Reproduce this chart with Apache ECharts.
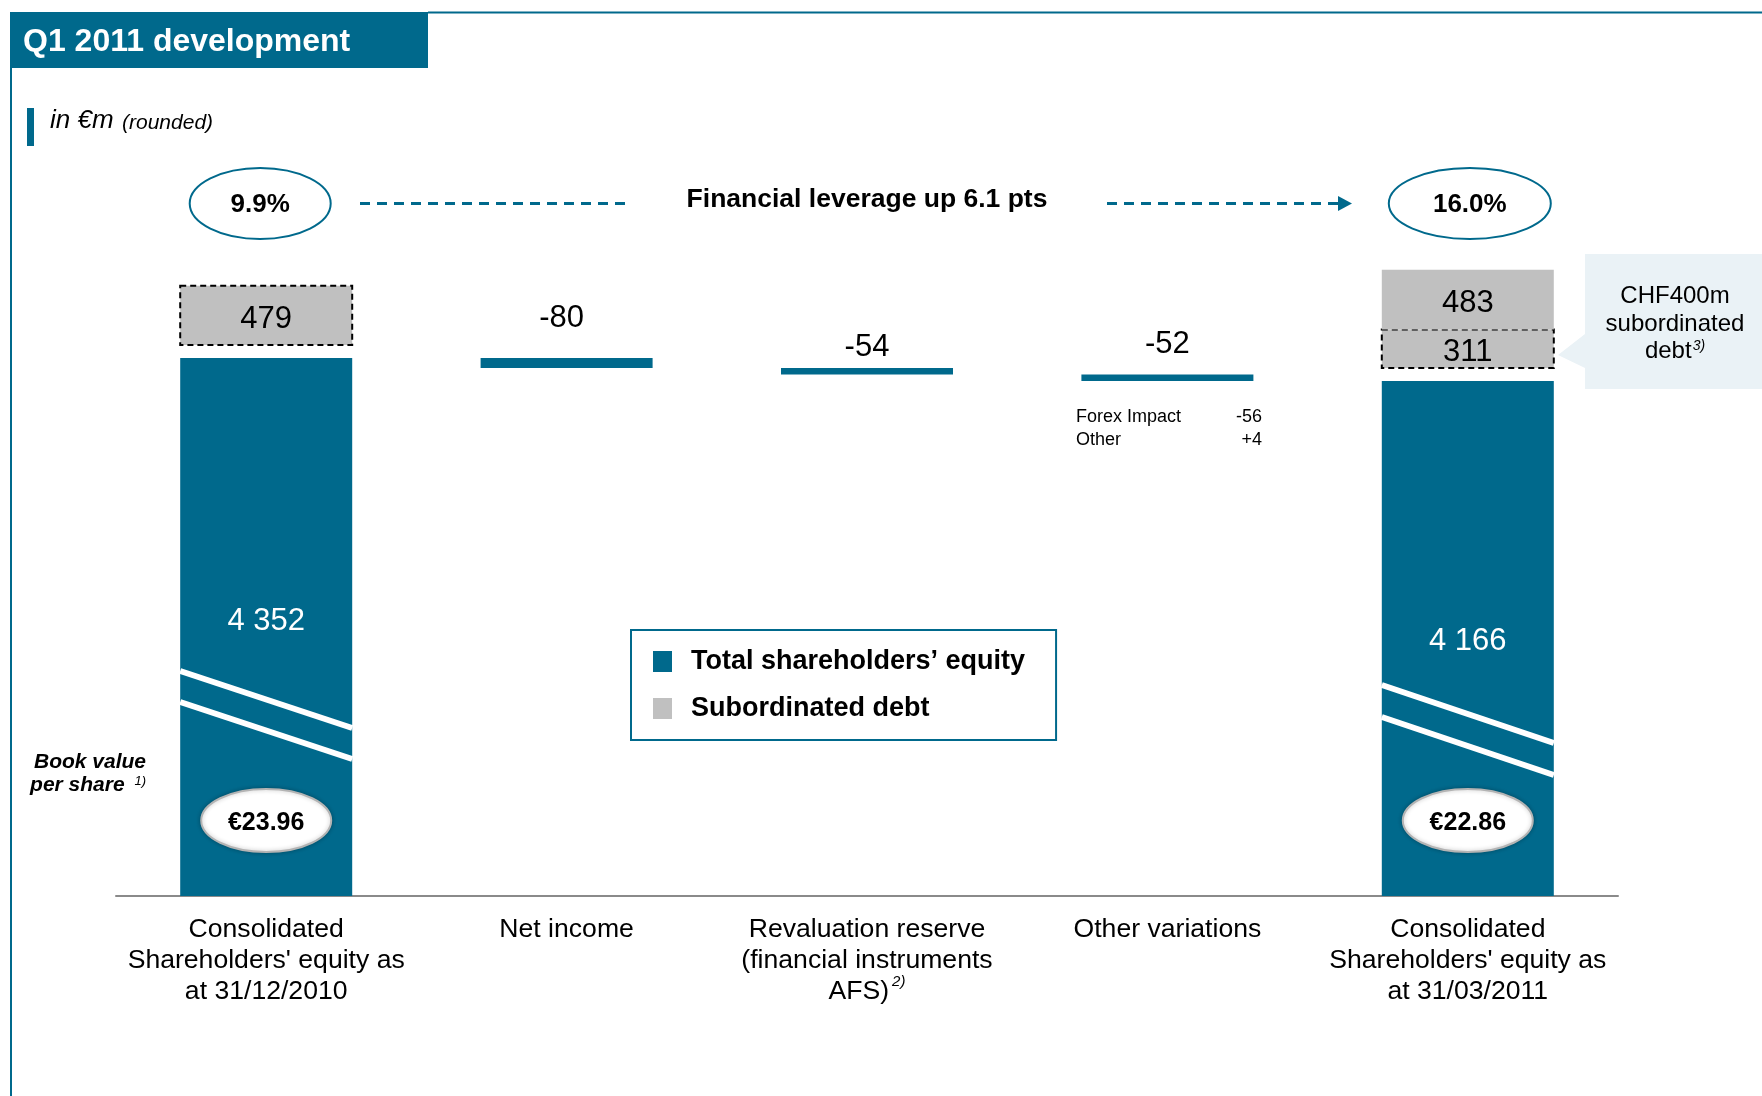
<!DOCTYPE html>
<html>
<head>
<meta charset="utf-8">
<title>Q1 2011 development</title>
<script src="https://cdn.jsdelivr.net/npm/echarts@6/dist/echarts.min.js"></script>
<style>
  html, body { margin: 0; padding: 0; background: #fff; }
  #chart { width: 1762px; height: 1096px; }
</style>
</head>
<body>
<div id="chart"></div>
<script>
// values in €m (rounded)
const categories = [
  'Consolidated\nShareholders\' equity as\nat 31/12/2010',
  'Net income',
  'Revaluation reserve\n(financial instruments\nAFS){sup|2)}',
  'Other variations',
  'Consolidated\nShareholders\' equity as\nat 31/03/2011'
]
const equity = [4352, null, null, null, 4166]
const changes = [null, -80, -54, -52, null]
const subDebtOld = [479, null, null, null, 311]
const subDebtNew = [null, null, null, null, 483]
const leverage = ['9.9%', null, null, null, '16.0%']
const bookValue = ['€23.96', null, null, null, '€22.86']
const otherDetail = [['Forex Impact', '-56'], ['Other', '+4']]

const TEAL = '#00698c'
const GREY = '#c0c0c0'
const FONT = '"Liberation Sans", Arial, sans-serif'
const BAR_W = 172
const DEBT_GAP = 13 // white gap between equity bar and debt box
// label tweaks (px)
const changeLabelDist = [0, 24, 5, 15, 0]
const changeLabelShift = [0, -5, 0, 0, 0]
const equityLabelShift = [-6, 0, 0, 0, 3]
// break marks: px above baseline at left / right edge of bar
const breakMarks = {
  0: [[225, 168], [194, 137]],
  4: [[211, 153], [179, 121]]
}

const fmt = v => String(v).replace(/\B(?=(\d{3})+(?!\d))/g, ' ')

// waterfall: invisible base + visible step
let level = equity[0]
const stepBase = []
const stepSize = []
changes.forEach((c, i) => {
  if (c == null) {
    stepBase.push(0)
    stepSize.push({ value: 0, label: { show: false } })
    return
  }
  level += c
  stepBase.push(level)
  stepSize.push({ value: -c, label: { distance: changeLabelDist[i], offset: [changeLabelShift[i], 0] } })
})

const equityData = equity.map((v, i) => v == null
  ? { value: 0, label: { show: false } }
  : { value: v, label: { offset: [0, equityLabelShift[i]] } })

const debtOldData = []
const debtNewData = []
const decorData = []
categories.forEach((c, i) => {
  if (subDebtOld[i] != null) debtOldData.push([i, subDebtOld[i]])
  if (subDebtNew[i] != null) debtNewData.push([i, subDebtNew[i]])
  if (leverage[i] != null) decorData.push([i, 0])
})

function debtBox(params, api, dashed) {
  const i = api.value(0)
  const v = api.value(1)
  let start = equity[i]
  if (!dashed) start += subDebtOld[i] || 0
  const p0 = api.coord([i, start])
  const p1 = api.coord([i, start + v])
  const rect = {
    x: p0[0] - BAR_W / 2,
    y: p1[1] - DEBT_GAP,
    width: BAR_W,
    height: p0[1] - p1[1]
  }
  return {
    type: 'group',
    children: [{
      type: 'rect',
      shape: rect,
      style: dashed
        ? { fill: GREY, stroke: '#000', lineWidth: 2, lineDash: [6, 4] }
        : { fill: GREY }
    }, {
      type: 'text',
      style: {
        x: p0[0],
        y: rect.y + rect.height / 2 + 4,
        text: String(v),
        align: 'center',
        verticalAlign: 'middle',
        font: '31px ' + FONT,
        fill: '#000'
      }
    }]
  }
}

function decor(params, api) {
  const i = api.value(0)
  const base = api.coord([i, 0])
  const cx = base[0]
  const children = []
  breakMarks[i].forEach(m => {
    children.push({
      type: 'line',
      shape: { x1: cx - BAR_W / 2, y1: base[1] - m[0], x2: cx + BAR_W / 2, y2: base[1] - m[1] },
      style: { stroke: '#fff', lineWidth: 6 }
    })
  })
  // book value per share
  children.push({
    type: 'ellipse',
    shape: { cx: cx, cy: base[1] - 75.5, rx: 65, ry: 31.5 },
    style: { fill: '#fff', stroke: '#b4b4b4', lineWidth: 2, shadowBlur: 4, shadowColor: 'rgba(0,0,0,0.25)' }
  }, {
    type: 'text',
    style: {
      x: cx, y: base[1] - 72.5, text: bookValue[i],
      align: 'center', verticalAlign: 'middle',
      font: 'bold 25px ' + FONT, fill: '#000'
    }
  })
  // financial leverage
  const rx = i === 0 ? 70.5 : 81
  const ex = cx - (i === 0 ? 6 : -2)
  children.push({
    type: 'ellipse',
    shape: { cx: ex, cy: 203.5, rx: rx, ry: 35.5 },
    style: { fill: '#fff', stroke: TEAL, lineWidth: 2 }
  }, {
    type: 'text',
    style: {
      x: ex, y: 205, text: leverage[i],
      align: 'center', verticalAlign: 'middle',
      font: 'bold 26px ' + FONT, fill: '#000'
    }
  })
  return { type: 'group', children: children }
}

const chart = echarts.init(document.getElementById('chart'))

chart.setOption({
  animation: false,
  textStyle: { fontFamily: FONT },
  grid: { left: 116, right: 144, top: 154.27, bottom: 200 },
  legend: {
    data: ['Total shareholders’ equity', 'Subordinated debt'],
    orient: 'vertical',
    left: 631,
    top: 630,
    icon: 'rect',
    itemWidth: 19,
    itemHeight: 21,
    itemGap: 20,
    padding: [18, 31, 18, 22],
    borderColor: TEAL,
    borderWidth: 2,
    selectedMode: false,
    textStyle: { fontSize: 27, fontWeight: 'bold', color: '#000', fontFamily: FONT, padding: [0, 0, 0, 14] }
  },
  xAxis: {
    type: 'category',
    data: categories,
    axisLine: { lineStyle: { color: '#8a8a8a', width: 2 } },
    axisTick: { show: false },
    axisLabel: {
      interval: 0,
      margin: 18,
      fontSize: 26.6,
      lineHeight: 31,
      color: '#000',
      fontFamily: FONT,
      rich: {
        sup: { fontSize: 15, fontStyle: 'italic', color: '#000', fontFamily: FONT, padding: [0, 0, 20, 3] }
      }
    }
  },
  yAxis: { type: 'value', min: 0, max: 6000, show: false },
  series: [{
    name: 'Total shareholders’ equity',
    type: 'bar',
    stack: 'w',
    barWidth: BAR_W,
    data: equityData,
    itemStyle: { color: TEAL },
    label: {
      show: true,
      position: 'inside',
      color: '#fff',
      fontSize: 31,
      fontFamily: FONT,
      formatter: p => p.value ? fmt(p.value) : ''
    }
  }, {
    name: 'base',
    type: 'bar',
    stack: 'w',
    barWidth: BAR_W,
    silent: true,
    data: stepBase,
    itemStyle: { color: 'transparent' }
  }, {
    name: 'change',
    type: 'bar',
    stack: 'w',
    barWidth: BAR_W,
    data: stepSize,
    itemStyle: { color: TEAL },
    label: {
      show: true,
      position: 'top',
      color: '#000',
      fontSize: 31,
      fontFamily: FONT,
      formatter: p => changes[p.dataIndex] == null ? '' : String(changes[p.dataIndex])
    }
  }, {
    name: 'Subordinated debt',
    type: 'custom',
    itemStyle: { color: GREY },
    encode: { x: 0, y: 1 },
    data: debtOldData,
    renderItem: (params, api) => debtBox(params, api, true),
    z: 3
  }, {
    name: 'Subordinated debt',
    type: 'custom',
    itemStyle: { color: GREY },
    encode: { x: 0, y: 1 },
    data: debtNewData,
    renderItem: (params, api) => debtBox(params, api, false),
    z: 3
  }, {
    name: 'decor',
    type: 'custom',
    encode: { x: 0, y: 1 },
    data: decorData,
    renderItem: decor,
    silent: true,
    z: 5
  }],
  graphic: [
    // frame + title
    { type: 'line', shape: { x1: 428, y1: 12.5, x2: 1762, y2: 12.5 }, style: { stroke: TEAL, lineWidth: 2 } },
    { type: 'line', shape: { x1: 11, y1: 12, x2: 11, y2: 1096 }, style: { stroke: TEAL, lineWidth: 2 } },
    { type: 'rect', shape: { x: 10, y: 12, width: 418, height: 56 }, style: { fill: TEAL } },
    { type: 'text', x: 23, y: 42, style: { text: 'Q1 2011 development', font: 'bold 32px ' + FONT, fill: '#fff', verticalAlign: 'middle' } },
    // unit
    { type: 'rect', shape: { x: 27, y: 108, width: 7, height: 38 }, style: { fill: TEAL } },
    { type: 'text', x: 50, y: 121, style: { text: 'in €m', font: 'italic 26px ' + FONT, fill: '#000', verticalAlign: 'middle' } },
    { type: 'text', x: 122, y: 123, style: { text: '(rounded)', font: 'italic 21px ' + FONT, fill: '#000', verticalAlign: 'middle' } },
    // leverage arrow
    { type: 'line', shape: { x1: 360, y1: 203.5, x2: 631, y2: 203.5 }, style: { stroke: TEAL, lineWidth: 3, lineDash: [10, 7] } },
    { type: 'line', shape: { x1: 1107, y1: 203.5, x2: 1340, y2: 203.5 }, style: { stroke: TEAL, lineWidth: 3, lineDash: [10, 7] } },
    { type: 'polygon', shape: { points: [[1338, 196], [1352, 203.5], [1338, 211]] }, style: { fill: TEAL } },
    { type: 'text', x: 867, y: 200, style: { text: 'Financial leverage up 6.1 pts', font: 'bold 26.5px ' + FONT, fill: '#000', align: 'center', verticalAlign: 'middle' } },
    // CHF callout
    {
      type: 'polygon',
      shape: { points: [[1585, 254], [1762, 254], [1762, 389], [1585, 389], [1585, 368], [1558, 355], [1585, 334]] },
      style: { fill: '#eaf2f6' }
    },
    {
      type: 'text', x: 1675, y: 324,
      style: {
        text: 'CHF400m\nsubordinated\ndebt{sup|3)}',
        font: '24px ' + FONT, fill: '#000', align: 'center', verticalAlign: 'middle', lineHeight: 27.5,
        rich: { sup: { fontSize: 14, fontStyle: 'italic', fill: '#000', padding: [0, 0, 10, 1] } }
      }
    },
    // book value caption
    {
      type: 'text', x: 146, y: 774,
      style: {
        text: 'Book value\nper share {sup|1)}',
        font: 'italic bold 21px ' + FONT, fill: '#000', align: 'right', verticalAlign: 'middle', lineHeight: 23,
        rich: { sup: { fontSize: 13, fontStyle: 'italic', fill: '#000', padding: [0, 0, 8, 4] } }
      }
    },
    // other variations detail
    { type: 'text', x: 1076, y: 417, style: { text: otherDetail[0][0], font: '18px ' + FONT, fill: '#000', verticalAlign: 'middle' } },
    { type: 'text', x: 1262, y: 417, style: { text: otherDetail[0][1], font: '18px ' + FONT, fill: '#000', align: 'right', verticalAlign: 'middle' } },
    { type: 'text', x: 1076, y: 440, style: { text: otherDetail[1][0], font: '18px ' + FONT, fill: '#000', verticalAlign: 'middle' } },
    { type: 'text', x: 1262, y: 440, style: { text: otherDetail[1][1], font: '18px ' + FONT, fill: '#000', align: 'right', verticalAlign: 'middle' } }
  ]
})
</script>
</body>
</html>
